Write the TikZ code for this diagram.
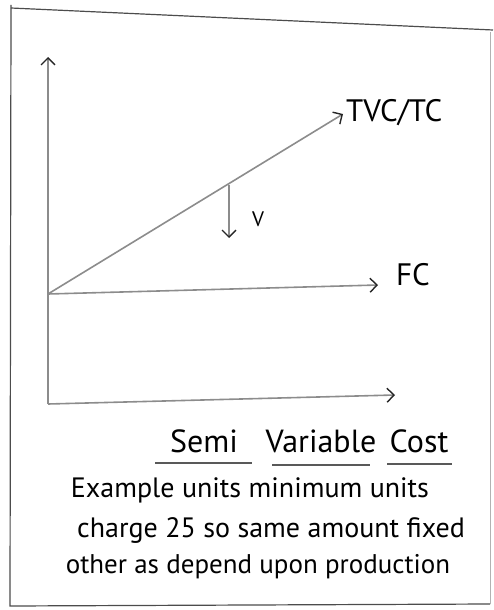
\documentclass[tikz,border=0pt]{standalone}
\usepackage{fontspec}
\setmainfont{PT Sans}
\usetikzlibrary{arrows.meta}
\begin{document}
\begin{tikzpicture}[x=1pt,y=-1pt,
  frame/.style={draw=black!70,line width=1.2pt},
  pencil/.style={draw=black!45,line width=1.6pt,-{Straight Barb[length=7pt,width=14pt,line width=1.4pt,color=black!85]}},
  lbl/.style={font=\fontsize{31}{34}\selectfont,inner sep=0pt},
  title/.style={font=\fontsize{32}{36}\selectfont,inner sep=0pt},
  body/.style={font=\fontsize{28}{31}\selectfont,inner sep=0pt},
  uline/.style={draw=black!65,line width=1.3pt}]
\useasboundingbox (0,0) rectangle (493,610);
% frame
\coordinate (f1) at (11,5);
\coordinate (f2) at (10,606);
\coordinate (f3) at (490,604);
\coordinate (f4) at (493,30);
\coordinate (f0) at (11,8);
\draw[frame] (f1) -- (f2) -- (f3);
\draw[draw=black!30,line width=0.8pt] (f3) -- (490,32);
\draw[frame] (f0) -- (f4);
% axes
\coordinate (O) at (48,404);
\coordinate (ytop) at (48,57);
\coordinate (xend) at (395,395);
\coordinate (F) at (48,294);
\coordinate (fcend) at (378,285);
\coordinate (tvcend) at (343,114);
\draw[pencil] (O) -- (ytop);
\draw[pencil] (O) -- (xend);
\draw[pencil] (F) -- (fcend);
\draw[pencil] (F) -- (tvcend);
% V arrow
\coordinate (vtop) at (229,185);
\coordinate (vbot) at (229,238);
\draw[pencil] (vtop) -- (vbot);
\node[lbl,font=\fontsize{21}{24}\selectfont] (v) at (258,219) {V};
% labels
\node[lbl,anchor=west] (tvc) at (346,113) {TVC/TC};
\node[lbl] (fc) at (413,275) {FC};
% title
\node[title,anchor=base] (semi) at (204,452) {Semi};
\node[title,anchor=base] (var) at (321,452) {Variable};
\node[title,anchor=base] (cost) at (419,452) {Cost};
\draw[uline] (155,463) -- (252,463);
\draw[uline] (272,465) -- (370,465);
\draw[uline] (387,464) -- (452,464);
% body
\node[body] (l1) at (250,490) {Example units minimum units};
\node[body] (l2) at (271,530) {charge 25 so same amount fixed};
\node[body,font=\fontsize{27}{30}\selectfont] (l3) at (258,567) {other as depend upon production};
\end{tikzpicture}
\end{document}
